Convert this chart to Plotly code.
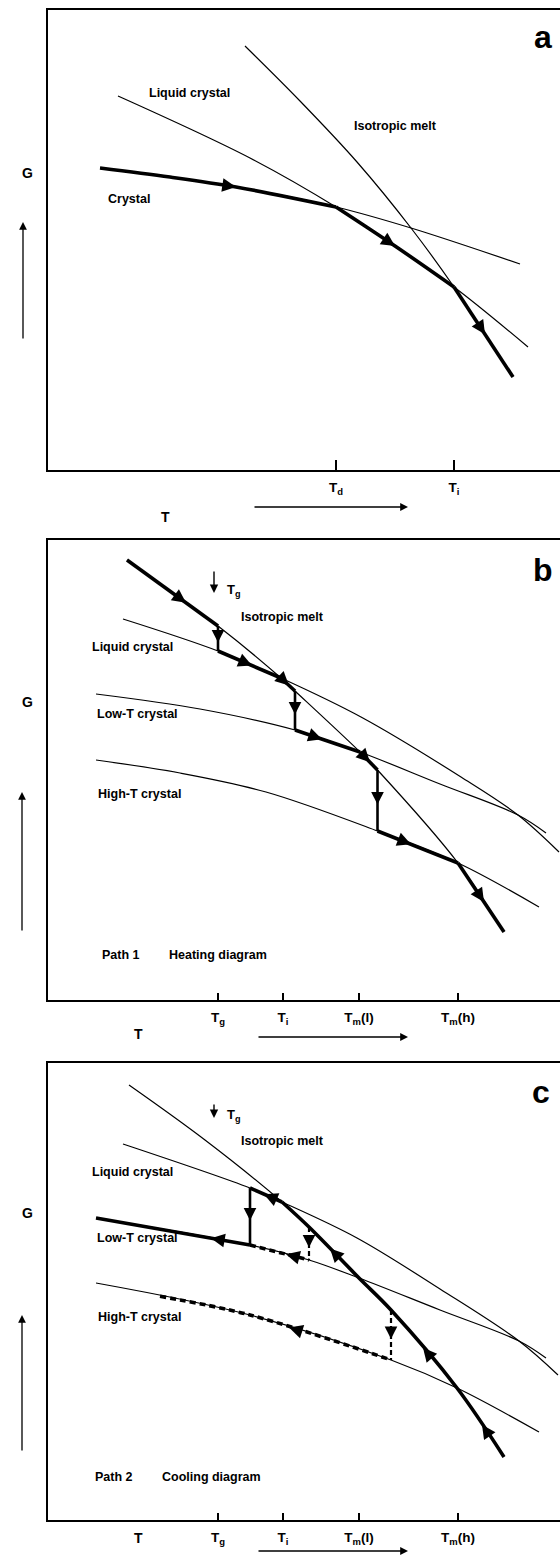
import numpy as np
import plotly.graph_objects as go

W, H = 560, 1557
FONT = "Liberation Sans, Arial, sans-serif"

# ---------------- Panel a ----------------
A_CRYSTAL_T = [100, 170, 236, 336, 411, 520]
A_CRYSTAL_G = [302, 293, 283, 263, 242, 206]
A_LC_T = [118, 250, 336, 395, 454, 528]
A_LC_G = [374, 312, 263, 224, 183, 123]
A_ISO_T = [245, 300, 357, 411, 454, 513]
A_ISO_G = [424, 369, 308, 242, 183, 93]
A_TICKS = [336, 454]
A_TICKTEXT = ["T<sub>d</sub>", "T<sub>i</sub>"]

# ---------------- Panel b ----------------
B_ISO_T = [127, 218, 281, 295, 360, 377.5, 458, 504]
B_ISO_G = [440, 374, 322, 309, 248, 230, 137, 68]
B_LC_T = [123, 218, 281, 361, 461, 518, 559]
B_LC_G = [381, 349, 322, 283, 223, 185, 148]
B_LOWT_T = [96, 200, 295, 360, 440, 518, 546]
B_LOWT_G = [306, 291, 270, 248, 216, 185, 167]
B_HIGHT_T = [96, 180, 266, 377.5, 458, 539]
B_HIGHT_G = [240, 227, 208, 169, 137, 93]
BC_TICKS = [218, 283, 359, 458]
BC_TICKTEXT = ["T<sub>g</sub>", "T<sub>i</sub>", "T<sub>m</sub>(l)", "T<sub>m</sub>(h)"]

# ---------------- Panel c ----------------
C_ISO_T = [129, 205, 282, 309, 359, 391, 457, 504]
C_ISO_G = [435, 380, 318, 293, 242, 210, 132, 63]
C_LC_T = [123, 250, 282, 357, 440, 519, 558]
C_LC_G = [376, 332, 318, 282, 231, 179, 145]
C_LOWT_T = [96, 250, 309, 359, 440, 519, 546]
C_LOWT_G = [302, 275, 260, 242, 210, 179, 162]
C_HIGHT_T = [96, 250, 391, 457, 539]
C_HIGHT_G = [237, 205, 160, 132, 88]

FRAME_LEFT = 47.5
PANELS = {
    "a": dict(top=10, bottom=470, xa="x", ya="y"),
    "b": dict(top=540, bottom=1000, xa="x2", ya="y2"),
    "c": dict(top=1063, bottom=1520, xa="x3", ya="y3"),
}

CURVES = {
    "a": {"crystal": (A_CRYSTAL_T, A_CRYSTAL_G), "lc": (A_LC_T, A_LC_G), "iso": (A_ISO_T, A_ISO_G)},
    "b": {"iso": (B_ISO_T, B_ISO_G), "lc": (B_LC_T, B_LC_G), "lowt": (B_LOWT_T, B_LOWT_G), "hight": (B_HIGHT_T, B_HIGHT_G)},
    "c": {"iso": (C_ISO_T, C_ISO_G), "lc": (C_LC_T, C_LC_G), "lowt": (C_LOWT_T, C_LOWT_G), "hight": (C_HIGHT_T, C_HIGHT_G)},
}

# thick path pieces: (curve, t0, t1, dashed)
PATHS = {
    "a": [("crystal", 100, 336, False), ("lc", 336, 454, False), ("iso", 454, 513, False)],
    "b": [("iso", 127, 218, False), ("lc", 218, 281, False), ("iso", 281, 295, False),
          ("lowt", 295, 360, False), ("iso", 360, 377.5, False), ("hight", 377.5, 458, False),
          ("iso", 458, 504, False)],
    "c": [("iso", 282, 504, False), ("lc", 250, 282, False), ("lowt", 96, 250, False),
          ("lowt", 250, 309, True), ("hight", 160, 391, True)],
}
# vertical drops: (T, from curve, to curve, dashed)
DROPS = {
    "a": [],
    "b": [(218, "iso", "lc", False), (295, "iso", "lowt", False), (377.5, "iso", "hight", False)],
    "c": [(250, "lc", "lowt", False), (309, "iso", "lowt", True), (391, "iso", "hight", True)],
}
# arrowheads along curves: (curve, T, direction)
ARROWS = {
    "a": [("crystal", 236, 1), ("lc", 395, 1), ("iso", 485, 1)],
    "b": [("iso", 186, 1), ("lc", 252, 1), ("iso", 289, 1), ("lowt", 322, 1),
          ("iso", 370, 1), ("hight", 411, 1), ("iso", 484, 1)],
    "c": [("iso", 482, -1), ("iso", 423, -1), ("iso", 330, -1), ("lc", 264, -1),
          ("lowt", 211, -1), ("lowt", 286, -1), ("hight", 289, -1)],
}
LABELS = {
    "a": [("Liquid crystal", 189, 377), ("Isotropic melt", 395, 344), ("Crystal", 129, 271)],
    "b": [("Isotropic melt", 282, 383), ("Liquid crystal", 132, 353), ("Low-T crystal", 137, 286),
          ("High-T crystal", 139, 206), ("Path 1", 121, 45), ("Heating diagram", 218, 45)],
    "c": [("Isotropic melt", 282, 379), ("Liquid crystal", 132, 348), ("Low-T crystal", 137, 282),
          ("High-T crystal", 139, 203), ("Path 2", 114, 43), ("Cooling diagram", 211, 43)],
}
LETTERS = {"a": (543, 433), "b": (543, 430), "c": (541, 428)}
TG_MARK = {"b": (214, 430, 407, 234, 410), "c": (214, 417, 402, 234, 405)}
# outside labels in page pixels
G_LABEL_Y = {"a": 163, "b": 702, "c": 1223}
G_ARROW = {"a": (23, 340, 222), "b": (22, 932, 792), "c": (22, 1452, 1315)}
T_LABEL = {"a": (159, 507), "b": (132, 1034), "c": (132, 1548)}
T_ARROW = {"a": (253, 408, 507), "b": (257, 408, 1037), "c": (257, 408, 1551)}
TICKS = {"a": (A_TICKS, A_TICKTEXT, 10), "b": (BC_TICKS, BC_TICKTEXT, 7), "c": (BC_TICKS, BC_TICKTEXT, 7)}

fig = go.Figure()
annotations = []


def segment(T, G, t0, t1):
    lo, hi = min(t0, t1), max(t0, t1)
    ts = [lo] + [t for t in T if lo < t < hi] + [hi]
    return ts, list(np.interp(ts, T, G))


for key, p in PANELS.items():
    xa, ya = p["xa"], p["ya"]
    curves = CURVES[key]
    for name, (T, G) in curves.items():
        fig.add_trace(go.Scatter(x=T, y=G, mode="lines",
                                 line=dict(color="black", width=1.2, shape="spline", smoothing=1.0),
                                 xaxis=xa, yaxis=ya, hoverinfo="skip", showlegend=False))
    for name, t0, t1, dashed in PATHS[key]:
        T, G = curves[name]
        ts, gs = segment(T, G, t0, t1)
        fig.add_trace(go.Scatter(x=ts, y=gs, mode="lines",
                                 line=dict(color="black", width=3.6, shape="spline", smoothing=1.0,
                                           dash="6px,4px" if dashed else "solid"),
                                 xaxis=xa, yaxis=ya, hoverinfo="skip", showlegend=False))
    for t, c0, c1, dashed in DROPS[key]:
        g0 = float(np.interp(t, *curves[c0]))
        g1 = float(np.interp(t, *curves[c1]))
        fig.add_trace(go.Scatter(x=[t, t], y=[g0, g1], mode="lines",
                                 line=dict(color="black", width=2.6 if not dashed else 2.2,
                                           dash="5px,3px" if dashed else "solid"),
                                 xaxis=xa, yaxis=ya, hoverinfo="skip", showlegend=False))
        gm = (g0 + g1) / 2 - 4
        annotations.append(dict(x=t, y=gm, ax=t, ay=gm + 8, xref=xa, yref=ya, axref=xa, ayref=ya,
                                showarrow=True, arrowhead=2, arrowsize=1.4, arrowwidth=1.8,
                                arrowcolor="black", text=""))
    for name, t, d in ARROWS[key]:
        T, G = curves[name]
        g = float(np.interp(t, T, G))
        tt = t - d * 8
        gt = float(np.interp(tt, T, G))
        annotations.append(dict(x=t, y=g, ax=tt, ay=gt, xref=xa, yref=ya, axref=xa, ayref=ya,
                                showarrow=True, arrowhead=2, arrowsize=1.25, arrowwidth=2.2,
                                arrowcolor="black", text=""))
    for text, t, g in LABELS[key]:
        annotations.append(dict(x=t, y=g, xref=xa, yref=ya, text=text, showarrow=False,
                                font=dict(family=FONT, size=12.5, color="black", weight="bold")))
    lt, lg = LETTERS[key]
    annotations.append(dict(x=lt, y=lg, xref=xa, yref=ya, text=key, showarrow=False,
                            font=dict(family=FONT, size=32, color="black", weight="bold")))
    if key in TG_MARK:
        t, g0, g1, lt2, lg2 = TG_MARK[key]
        annotations.append(dict(x=t, y=g1, ax=t, ay=g0, xref=xa, yref=ya, axref=xa, ayref=ya,
                                showarrow=True, arrowhead=2, arrowsize=1.2, arrowwidth=1.4,
                                arrowcolor="black", text=""))
        annotations.append(dict(x=lt2, y=lg2, xref=xa, yref=ya, text="T<sub>g</sub>", showarrow=False,
                                font=dict(family=FONT, size=13, color="black", weight="bold")))
    # outside labels and arrows (paper coordinates)
    annotations.append(dict(x=20 / W, y=1 - G_LABEL_Y[key] / H, xref="paper", yref="paper", text="G",
                            showarrow=False, font=dict(family=FONT, size=14, color="black", weight="bold")))
    gx, gy0, gy1 = G_ARROW[key]
    annotations.append(dict(x=gx / W, y=1 - gy1 / H, xref="paper", yref="paper", ax=0, ay=gy0 - gy1,
                            showarrow=True, arrowhead=2, arrowsize=1.2, arrowwidth=1.3,
                            arrowcolor="black", text=""))
    tx, ty = T_LABEL[key]
    annotations.append(dict(x=tx / W, y=1 - ty / H, xref="paper", yref="paper", text="T",
                            showarrow=False, font=dict(family=FONT, size=14, color="black", weight="bold")))
    ax0, ax1, ay_ = T_ARROW[key]
    annotations.append(dict(x=ax1 / W, y=1 - ay_ / H, xref="paper", yref="paper", ax=ax0 - ax1, ay=0,
                            showarrow=True, arrowhead=2, arrowsize=1.2, arrowwidth=1.3,
                            arrowcolor="black", text=""))

layout = dict(width=W, height=H, margin=dict(l=0, r=0, t=0, b=0),
              paper_bgcolor="white", plot_bgcolor="white", showlegend=False,
              annotations=annotations)
for key, p in PANELS.items():
    xn = "xaxis" + p["xa"][1:]
    yn = "yaxis" + p["ya"][1:]
    tv, tt, tl = TICKS[key]
    layout[xn] = dict(domain=[FRAME_LEFT / W, 1], range=[FRAME_LEFT, W], anchor=p["ya"],
                      showline=True, mirror=True, linecolor="black", linewidth=1.8,
                      ticks="inside", ticklen=tl, tickwidth=1.5, tickcolor="black",
                      tickvals=tv, ticktext=tt, ticklabelstandoff=4,
                      tickfont=dict(family=FONT, size=13.5, color="black", weight="bold"),
                      showgrid=False, zeroline=False, fixedrange=True)
    layout[yn] = dict(domain=[1 - p["bottom"] / H, 1 - p["top"] / H], range=[0, p["bottom"] - p["top"]],
                      anchor=p["xa"], showline=True, linecolor="black", linewidth=1.8,
                      showticklabels=False, ticks="", showgrid=False, zeroline=False, fixedrange=True)

fig.update_layout(**layout)
fig.write_html("out.html")
